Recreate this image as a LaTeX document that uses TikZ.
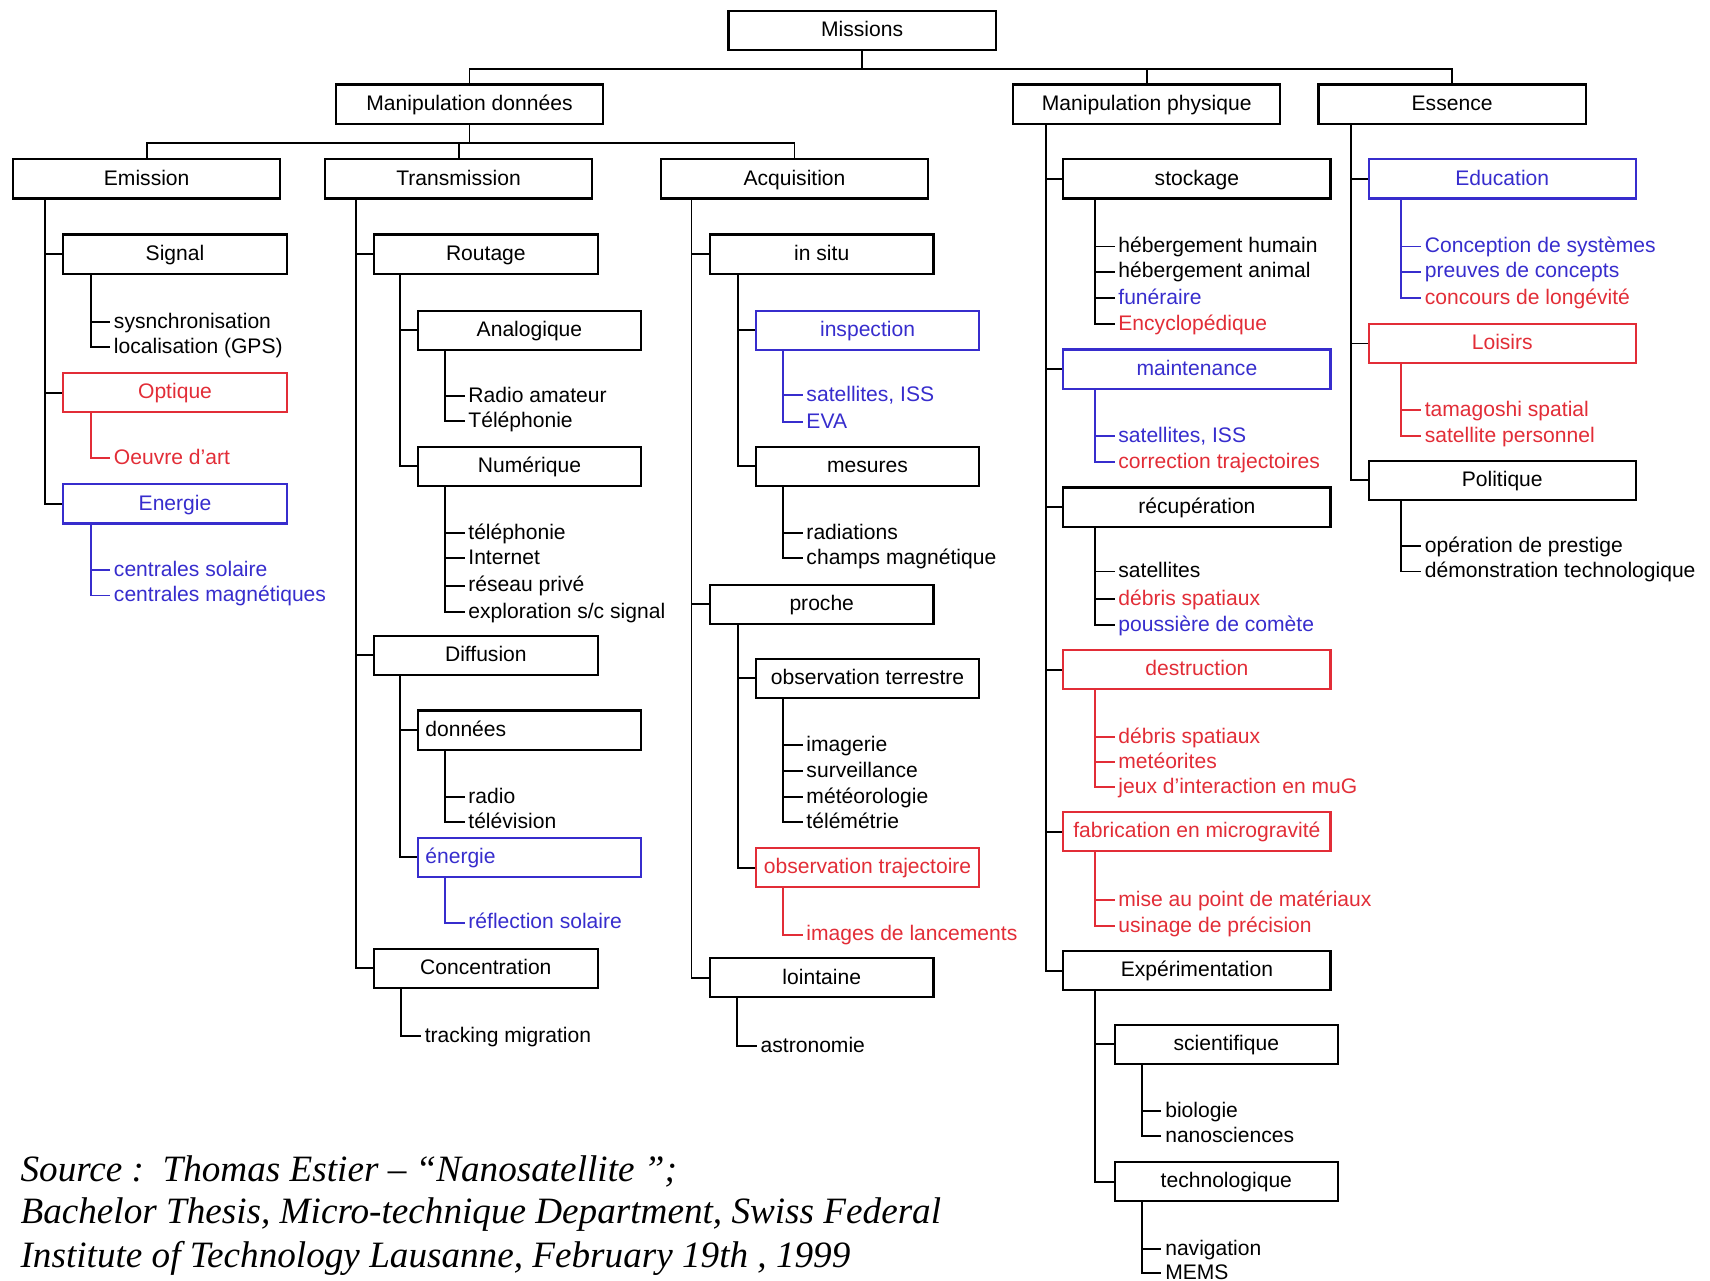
\documentclass[tikz,border=0pt]{standalone}
\usepackage{fontspec}
\setmainfont{Liberation Sans}
\newfontfamily\srcfont{Liberation Serif}
\usepackage{xcolor}
\definecolor{rouge}{RGB}{226,45,55}
\definecolor{bleu}{RGB}{55,45,205}

\begin{document}
\begin{tikzpicture}[x=0.02cm, y=-0.02cm, line width=1pt,
  every node/.style={font=\fontsize{11}{13}\selectfont, text height=1.55ex, text depth=.3ex},
  wbox/.style={draw, line width=1.1pt, minimum width=4.9cm, minimum height=0.72cm, inner sep=0pt},
  nbox/.style={wbox, minimum width=4.1cm},
  lbox/.style={nbox, inner xsep=0.14cm, text width=3.82cm, align=left},
  leaf/.style={anchor=west, inner sep=1.5pt},
  src/.style={anchor=base west, inner sep=0pt, font=\srcfont\itshape\fontsize{19.4}{22}\selectfont}]

  \useasboundingbox (0,0) rectangle (1568,1174);

  % Racine
  \node[wbox] (mis) at (790.5,28) {Missions};
  \node[wbox] (mdon) at (430.5,95.5) {Manipulation données};
  \node[wbox] (mphy) at (1051.5,95.5) {Manipulation physique};
  \node[wbox] (ess) at (1331.5,95.5) {Essence};
  \draw (mis.south) -- ++(0,16) -| (mdon.north);
  \draw (mis.south) -- ++(0,16) -| (mphy.north);
  \draw (mis.south) -- ++(0,16) -| (ess.north);

  % Manipulation donnees
  \node[wbox] (emi) at (134.5,164) {Emission};
  \node[wbox] (tra) at (420.5,164) {Transmission};
  \node[wbox] (acq) at (728.5,164) {Acquisition};
  \draw (mdon.south) -- ++(0,17) -| (emi.north);
  \draw (mdon.south) -- ++(0,17) -| (tra.north);
  \draw (mdon.south) -- ++(0,17) -| (acq.north);

  % Emission
  \node[nbox] (sig) at (160.5,233) {Signal};
  \node[nbox, rouge] (opt) at (160.5,360) {Optique};
  \node[nbox, bleu] (ene) at (160.5,462) {Energie};
  \draw ([xshift=.6cm]emi.south west) |- (sig.west);
  \draw ([xshift=.6cm]emi.south west) |- (opt.west);
  \draw ([xshift=.6cm]emi.south west) |- (ene.west);
  \node[leaf] (sig1) at (101,295) {sysnchronisation};
  \node[leaf] (sig2) at (101,318) {localisation (GPS)};
  \draw ([xshift=.52cm]sig.south west) |- (sig1.west);
  \draw ([xshift=.52cm]sig.south west) |- (sig2.west);
  \node[leaf, rouge] (opt1) at (101,420) {Oeuvre d'art};
  \draw[rouge] ([xshift=.52cm]opt.south west) |- (opt1.west);
  \node[leaf, bleu] (ene1) at (101,523) {centrales solaire};
  \node[leaf, bleu] (ene2) at (101,546) {centrales magnétiques};
  \draw[bleu] ([xshift=.52cm]ene.south west) |- (ene1.west);
  \draw[bleu] ([xshift=.52cm]ene.south west) |- (ene2.west);

  % Transmission
  \node[nbox] (rou) at (445.5,233) {Routage};
  \node[nbox] (dif) at (445.5,601) {Diffusion};
  \node[nbox] (con) at (445.5,888) {Concentration};
  \draw ([xshift=.58cm]tra.south west) |- (rou.west);
  \draw ([xshift=.58cm]tra.south west) |- (dif.west);
  \draw ([xshift=.58cm]tra.south west) |- (con.west);
  \node[nbox] (ana) at (485.5,303) {Analogique};
  \node[nbox] (num) at (485.5,427.5) {Numérique};
  \draw ([xshift=.5cm]rou.south west) |- (ana.west);
  \draw ([xshift=.5cm]rou.south west) |- (num.west);
  \node[leaf] (ana1) at (426,363) {Radio amateur};
  \node[leaf] (ana2) at (426,386) {Téléphonie};
  \draw ([xshift=.52cm]ana.south west) |- (ana1.west);
  \draw ([xshift=.52cm]ana.south west) |- (ana2.west);
  \node[leaf] (num1) at (426,489) {téléphonie};
  \node[leaf] (num2) at (426,512) {Internet};
  \node[leaf] (num3) at (426,537) {réseau privé};
  \node[leaf] (num4) at (426,561) {exploration s/c signal};
  \draw ([xshift=.52cm]num.south west) |- (num1.west);
  \draw ([xshift=.52cm]num.south west) |- (num2.west);
  \draw ([xshift=.52cm]num.south west) |- (num3.west);
  \draw ([xshift=.52cm]num.south west) |- (num4.west);
  \node[lbox] (don) at (485.5,669.5) {données};
  \node[lbox, bleu] (enr) at (485.5,786) {énergie};
  \draw ([xshift=.5cm]dif.south west) |- (don.west);
  \draw ([xshift=.5cm]dif.south west) |- (enr.west);
  \node[leaf] (don1) at (426,731) {radio};
  \node[leaf] (don2) at (426,754) {télévision};
  \draw ([xshift=.52cm]don.south west) |- (don1.west);
  \draw ([xshift=.52cm]don.south west) |- (don2.west);
  \node[leaf, bleu] (enr1) at (426,846) {réflection solaire};
  \draw[bleu] ([xshift=.52cm]enr.south west) |- (enr1.west);
  \node[leaf] (con1) at (386,950) {tracking migration};
  \draw ([xshift=.52cm]con.south west) |- (con1.west);

  % Acquisition
  \node[nbox] (ins) at (753.5,233) {in situ};
  \node[nbox] (pro) at (753.5,554) {proche};
  \node[nbox] (loin) at (753.5,896.5) {lointaine};
  \draw ([xshift=.58cm]acq.south west) |- (ins.west);
  \draw ([xshift=.58cm]acq.south west) |- (pro.west);
  \draw ([xshift=.58cm]acq.south west) |- (loin.west);
  \node[nbox, bleu] (insp) at (795.5,303) {inspection};
  \node[nbox] (mes) at (795.5,427.5) {mesures};
  \draw ([xshift=.54cm]ins.south west) |- (insp.west);
  \draw ([xshift=.54cm]ins.south west) |- (mes.west);
  \node[leaf, bleu] (insp1) at (736,362) {satellites, ISS};
  \node[leaf, bleu] (insp2) at (736,387) {EVA};
  \draw[bleu] ([xshift=.52cm]insp.south west) |- (insp1.west);
  \draw[bleu] ([xshift=.52cm]insp.south west) |- (insp2.west);
  \node[leaf] (mes1) at (736,489) {radiations};
  \node[leaf] (mes2) at (736,512) {champs magnétique};
  \draw ([xshift=.52cm]mes.south west) |- (mes1.west);
  \draw ([xshift=.52cm]mes.south west) |- (mes2.west);
  \node[nbox] (obt) at (795.5,622) {observation terrestre};
  \node[nbox, rouge] (obj) at (795.5,795.5) {observation trajectoire};
  \draw ([xshift=.54cm]pro.south west) |- (obt.west);
  \draw ([xshift=.54cm]pro.south west) |- (obj.west);
  \node[leaf] (obt1) at (736,683) {imagerie};
  \node[leaf] (obt2) at (736,707) {surveillance};
  \node[leaf] (obt3) at (736,731) {météorologie};
  \node[leaf] (obt4) at (736,754) {télémétrie};
  \draw ([xshift=.52cm]obt.south west) |- (obt1.west);
  \draw ([xshift=.52cm]obt.south west) |- (obt2.west);
  \draw ([xshift=.52cm]obt.south west) |- (obt3.west);
  \draw ([xshift=.52cm]obt.south west) |- (obt4.west);
  \node[leaf, rouge] (obj1) at (736,857) {images de lancements};
  \draw[rouge] ([xshift=.52cm]obj.south west) |- (obj1.west);
  \node[leaf] (loin1) at (694,959) {astronomie};
  \draw ([xshift=.52cm]loin.south west) |- (loin1.west);

  % Manipulation physique
  \node[wbox] (sto) at (1097.5,164) {stockage};
  \node[wbox, bleu] (mai) at (1097.5,338.5) {maintenance};
  \node[wbox] (rec) at (1097.5,465) {récupération};
  \node[wbox, rouge] (des) at (1097.5,614) {destruction};
  \node[wbox, rouge] (fab) at (1097.5,762.5) {fabrication en microgravité};
  \node[wbox] (exp) at (1097.5,890) {Expérimentation};
  \draw ([xshift=.62cm]mphy.south west) |- (sto.west);
  \draw ([xshift=.62cm]mphy.south west) |- (mai.west);
  \draw ([xshift=.62cm]mphy.south west) |- (rec.west);
  \draw ([xshift=.62cm]mphy.south west) |- (des.west);
  \draw ([xshift=.62cm]mphy.south west) |- (fab.west);
  \draw ([xshift=.62cm]mphy.south west) |- (exp.west);
  \node[leaf] (sto1) at (1022,226) {hébergement humain};
  \node[leaf] (sto2) at (1022,249) {hébergement animal};
  \node[leaf, bleu] (sto3) at (1022,273) {funéraire};
  \node[leaf, rouge] (sto4) at (1022,297) {Encyclopédique};
  \draw ([xshift=.6cm]sto.south west) |- (sto1.west);
  \draw ([xshift=.6cm]sto.south west) |- (sto2.west);
  \draw ([xshift=.6cm]sto.south west) |- (sto3.west);
  \draw ([xshift=.6cm]sto.south west) |- (sto4.west);
  \node[leaf, bleu] (mai1) at (1022,400) {satellites, ISS};
  \node[leaf, rouge] (mai2) at (1022,424) {correction trajectoires};
  \draw[bleu] ([xshift=.6cm]mai.south west) |- (mai1.west);
  \draw[bleu] ([xshift=.6cm]mai.south west) |- (mai2.west);
  \node[leaf] (rec1) at (1022,524) {satellites};
  \node[leaf, rouge] (rec2) at (1022,549) {débris spatiaux};
  \node[leaf, bleu] (rec3) at (1022,573) {poussière de comète};
  \draw ([xshift=.6cm]rec.south west) |- (rec1.west);
  \draw ([xshift=.6cm]rec.south west) |- (rec2.west);
  \draw ([xshift=.6cm]rec.south west) |- (rec3.west);
  \node[leaf, rouge] (des1) at (1022,676) {débris spatiaux};
  \node[leaf, rouge] (des2) at (1022,699) {metéorites};
  \node[leaf, rouge] (des3) at (1022,722) {jeux d'interaction en muG};
  \draw[rouge] ([xshift=.6cm]des.south west) |- (des1.west);
  \draw[rouge] ([xshift=.6cm]des.south west) |- (des2.west);
  \draw[rouge] ([xshift=.6cm]des.south west) |- (des3.west);
  \node[leaf, rouge] (fab1) at (1022,825) {mise au point de matériaux};
  \node[leaf, rouge] (fab2) at (1022,849) {usinage de précision};
  \draw[rouge] ([xshift=.6cm]fab.south west) |- (fab1.west);
  \draw[rouge] ([xshift=.6cm]fab.south west) |- (fab2.west);
  \node[nbox] (sci) at (1124.5,957.5) {scientifique};
  \node[nbox] (tec) at (1124.5,1083.5) {technologique};
  \draw ([xshift=.6cm]exp.south west) |- (sci.west);
  \draw ([xshift=.6cm]exp.south west) |- (tec.west);
  \node[leaf] (sci1) at (1065,1019) {biologie};
  \node[leaf] (sci2) at (1065,1042) {nanosciences};
  \draw ([xshift=.52cm]sci.south west) |- (sci1.west);
  \draw ([xshift=.52cm]sci.south west) |- (sci2.west);
  \node[leaf] (tec1) at (1065,1145) {navigation};
  \node[leaf] (tec2) at (1065,1167) {MEMS};
  \draw ([xshift=.52cm]tec.south west) |- (tec1.west);
  \draw ([xshift=.52cm]tec.south west) |- (tec2.west);

  % Essence
  \node[wbox, bleu] (edu) at (1377.5,164) {Education};
  \node[wbox, rouge] (loi) at (1377.5,315) {Loisirs};
  \node[wbox] (pol) at (1377.5,440.5) {Politique};
  \draw ([xshift=.62cm]ess.south west) |- (edu.west);
  \draw ([xshift=.62cm]ess.south west) |- (loi.west);
  \draw ([xshift=.62cm]ess.south west) |- (pol.west);
  \node[leaf, bleu] (edu1) at (1303,226) {Conception de systèmes};
  \node[leaf, bleu] (edu2) at (1303,249) {preuves de concepts};
  \node[leaf, rouge] (edu3) at (1303,273) {concours de longévité};
  \draw[bleu] ([xshift=.62cm]edu.south west) |- (edu1.west);
  \draw[bleu] ([xshift=.62cm]edu.south west) |- (edu2.west);
  \draw[bleu] ([xshift=.62cm]edu.south west) |- (edu3.west);
  \node[leaf, rouge] (loi1) at (1303,376) {tamagoshi spatial};
  \node[leaf, rouge] (loi2) at (1303,400) {satellite personnel};
  \draw[rouge] ([xshift=.62cm]loi.south west) |- (loi1.west);
  \draw[rouge] ([xshift=.62cm]loi.south west) |- (loi2.west);
  \node[leaf] (pol1) at (1303,501) {opération de prestige};
  \node[leaf] (pol2) at (1303,524) {démonstration technologique};
  \draw ([xshift=.62cm]pol.south west) |- (pol1.west);
  \draw ([xshift=.62cm]pol.south west) |- (pol2.west);

  % Source
  \node[src] (src1) at (18,1083) {Source :\ \ Thomas Estier – “Nanosatellite ”;};
  \node[src] (src2) at (18,1122) {Bachelor Thesis, Micro-technique Department, Swiss Federal};
  \node[src] (src3) at (18,1162) {Institute of Technology Lausanne, February 19th , 1999};
\end{tikzpicture}
\end{document}
